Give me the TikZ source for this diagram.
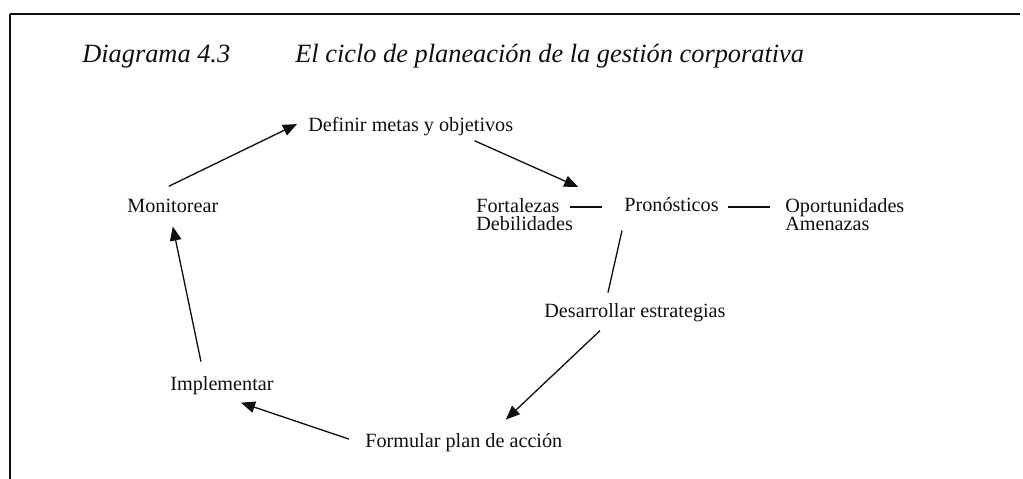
\documentclass[tikz,border=0pt]{standalone}
\usepackage{fontspec}
\setmainfont{Liberation Serif}
\usetikzlibrary{arrows.meta,calc}
\definecolor{inkblack}{RGB}{15,15,15}
\tikzset{
  stage/.style={inner sep=0pt, anchor=base west, text=inkblack,
                font=\fontsize{11.5}{10.4}\selectfont},
  stagepair/.style={stage, anchor=north west, align=left},
  caption/.style={inner sep=0pt, anchor=base west, text=inkblack,
                  font=\fontsize{15}{18}\selectfont\itshape},
  arrow/.style={-{Triangle[length=8pt,width=6.5pt]}, line width=0.75pt, inkblack},
  link/.style={line width=0.75pt, inkblack},
  boxline/.style={line width=1.3pt, inkblack},
}
\begin{document}
\begin{tikzpicture}[x=0.02cm, y=-0.02cm]
\useasboundingbox (0,0) rectangle (1023,479);
% marco
\draw[boxline] (10,14) -- (1020,14);
\draw[link] (10,14) -- (10,479);
% titulo
\node[caption] (num) at (82,63) {Diagrama 4.3};
\node[caption] (title) at (295,63) {El ciclo de planeación de la gestión corporativa};
% etapas del ciclo
\node[stage] (def) at (308,132) {Definir metas y objetivos};
\node[stage] (mon) at (127,213) {Monitorear};
\node[stage] (pron) at (624,212) {Pronósticos};
\node[stagepair] (fort) at (476,198) {Fortalezas\\Debilidades};
\node[stagepair] (opor) at (785,198) {Oportunidades\\Amenazas};
\node[stage] (des) at (544,317) {Desarrollar estrategias};
\node[stage] (form) at (365,447) {Formular plan de acción};
\node[stage] (impl) at (170,390) {Implementar};
% flechas
\draw[arrow] ($(mon.north)+(-4,-13)$) -- ($(def.west)+(-11,-3)$);
\draw[arrow] ($(def.south east)+(-39,4)$) -- ($(fort.north east)+(5,-11)$);
\draw[link] ($(fort.east |- pron.west)+(-3,2)$) -- ($(pron.west)+(-22,2)$);
\draw[link] ($(pron.east)+(9,2)$) -- ($(opor.west |- pron.east)+(-15,2)$);
\draw[link] ($(pron.south west)+(-2,18)$) -- ($(des.north)+(-27,-10)$);
\draw[arrow] ($(des.south)+(-35,9)$) -- ($(form.north)+(42,-13)$);
\draw[arrow] ($(form.west)+(-16,-3)$) -- ($(impl.south)+(19,8)$);
\draw[arrow] ($(impl.north)+(-21,-14)$) -- ($(mon.south)+(0,13)$);
\end{tikzpicture}
\end{document}
